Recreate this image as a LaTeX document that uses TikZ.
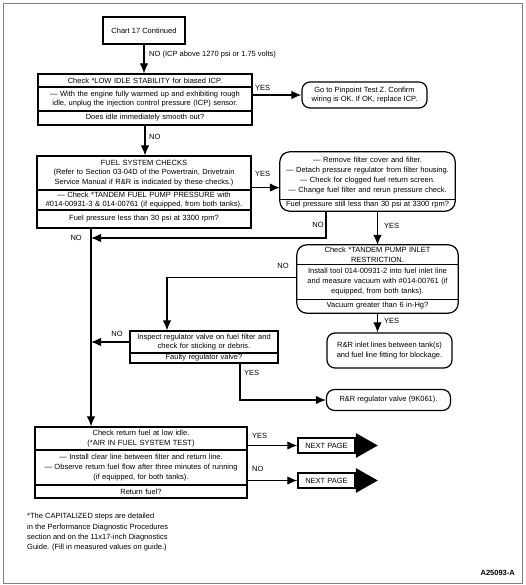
\documentclass[tikz,border=0pt]{standalone}
\usepackage{fontspec}
\setmainfont{Liberation Sans}
\usetikzlibrary{arrows.meta}

\begin{document}
\begin{tikzpicture}
[x=1pt,y=-1pt,%
  >={Latex[length=10pt,width=8.5pt]},%
  every node/.style={font=\fontsize{7.5}{9.8}\selectfont},%
  row/.style={draw,line width=1.2pt,inner sep=0pt,align=center,text width=#1},%
  rrow/.style={inner sep=0pt,align=center,text width=#1},%
  rbox/.style={draw,line width=1.2pt,rounded corners=10pt},%
  endbox/.style={draw,line width=1.2pt,rounded corners=8pt,align=center},%
  flow/.style={->,line width=1.1pt},%
  lbl/.style={inner sep=1pt}]
\useasboundingbox (0,0) rectangle (525,585);
\draw[gray,line width=0.8pt] (3,3) rectangle (522,583);

\node[draw,line width=1.5pt,minimum width=82pt,minimum height=27pt] (chart) at (144,30.5) {Chart 17 Continued};

\node[row=214pt,minimum height=13pt] (lis1) at (145,80.5) {Check *LOW IDLE STABILITY for biased ICP.};
\node[row=214pt,minimum height=24pt] (lis2) at (145,99) {— With the engine fully warmed up and exhibiting rough\\idle, unplug the injection control pressure (ICP) sensor.};
\node[row=214pt,minimum height=14pt] (lis3) at (145,118) {Does idle immediately smooth out?};

\node[endbox,minimum width=125pt,minimum height=26pt] (pin) at (364.5,95) {Go to Pinpoint Test Z. Confirm\\wiring is OK. If OK, replace ICP.};

\node[row=214pt,minimum height=34pt] (fsc1) at (144,173) {FUEL SYSTEM CHECKS\\(Refer to Section 03-04D of the Powertrain, Drivetrain\\Service Manual if R\&R is indicated by these checks.)};
\node[row=214pt,minimum height=20pt] (fsc2) at (144,200) {— Check *TANDEM FUEL PUMP PRESSURE with\\\#014-00931-3 \& 014-00761 (if equipped, from both tanks).};
\node[row=214pt,minimum height=18pt] (fsc3) at (144,219) {Fuel pressure less than 30 psi at 3300 rpm?};

\node[rrow=175pt,minimum height=47pt] (rem1) at (367.5,175.5) {— Remove filter cover and filter.\\— Detach pressure regulator from filter housing.\\— Check for clogged fuel return screen.\\— Change fuel filter and rerun pressure check.};
\node[rrow=175pt,minimum height=12pt] (rem2) at (367.5,205) {Fuel pressure still less than 30 psi at 3300 rpm?};
\draw[rbox] (rem1.north west) rectangle (rem2.south east);
\draw[line width=1.2pt] (rem1.south west) -- (rem1.south east);

\node[rrow=161pt,minimum height=19pt] (tan1) at (377.5,254.5) {Check *TANDEM PUMP INLET\\RESTRICTION.};
\node[rrow=161pt,minimum height=35pt] (tan2) at (377.5,281.5) {Install tool 014-00931-2 into fuel inlet line\\and measure vacuum with \#014-00761 (if\\equipped, from both tanks).};
\node[rrow=161pt,minimum height=14pt] (tan3) at (377.5,306) {Vacuum greater than 6 in-Hg?};
\draw[rbox] (tan1.north west) rectangle (tan3.south east);
\draw[line width=1.2pt] (tan1.south west) -- (tan1.south east);
\draw[line width=1.2pt] (tan2.south west) -- (tan2.south east);

\node[endbox,minimum width=125pt,minimum height=35pt] (inlet) at (389.5,350.5) {R\&R inlet lines between tank(s)\\and fuel line fitting for blockage.};

\node[row=148pt,minimum height=22pt] (ins1) at (204,342) {Inspect regulator valve on fuel filter and\\check for sticking or debris.};
\node[row=148pt,minimum height=10pt] (ins2) at (204,358) {Faulty regulator valve?};

\node[endbox,minimum width=124pt,minimum height=21pt] (regv) at (388.5,400) {R\&R regulator valve (9K061).};

\node[row=212pt,minimum height=23pt] (ret1) at (141,438.5) {Check return fuel at low idle.\\(*AIR IN FUEL SYSTEM TEST)};
\node[row=212pt,minimum height=35pt] (ret2) at (141,467.5) {— Install clear line between filter and return line.\\— Observe return fuel flow after three minutes of running\\(if equipped, for both tanks).};
\node[row=212pt,minimum height=13pt] (ret3) at (141,491.5) {Return fuel?};

\node[draw,line width=1.5pt,minimum width=57pt,minimum height=15pt,inner sep=0pt] (next1) at (326.5,445.5) {NEXT PAGE};
\fill ([yshift=12.5pt]next1.east) -- ([xshift=22pt]next1.east) -- ([yshift=-12.5pt]next1.east) -- cycle;
\node[draw,line width=1.5pt,minimum width=57pt,minimum height=15pt,inner sep=0pt] (next2) at (326.5,480.5) {NEXT PAGE};
\fill ([yshift=12.5pt]next2.east) -- ([xshift=22pt]next2.east) -- ([yshift=-12.5pt]next2.east) -- cycle;

\coordinate (trunk) at (91,238);

\draw[flow] (chart.south) -- (chart.south |- lis1.north);
\draw[flow] (pin.west -| lis2.east) -- (pin.west);
\draw[flow] (lis3.south) -- (lis3.south |- fsc1.north);
\draw[flow] ([yshift=3pt]fsc1.south east) -- ([yshift=3pt]fsc1.south east -| rem1.west);
\draw[flow] (fsc3.south -| trunk) -- (ret1.north -| trunk);
\draw[flow] ([xshift=-41.5pt]rem2.south) |- (trunk);
\draw[flow] (tan1.north |- rem2.south) -- (tan1.north);
\draw[flow] ([yshift=4pt]tan2.west) -| ([xshift=-37pt]ins1.north);
\draw[flow] (tan3.south) -- (tan3.south |- inlet.north);
\draw[flow] (ins1.west) -- (ins1.west -| trunk);
\draw[flow] ([xshift=36pt]ins2.south) |- (regv.west);
\draw[flow] (next1.west -| ret1.east) -- (next1.west);
\draw[flow] (next2.west -| ret2.east) -- (next2.west);

\node[lbl,anchor=west] at (148,55) {NO (ICP above 1270 psi or 1.75 volts)};
\node[lbl,anchor=west] at (254,88) {YES};
\node[lbl,anchor=west] at (148,137) {NO};
\node[lbl,anchor=west] at (254,174) {YES};
\node[lbl] at (318,225) {NO};
\node[lbl,anchor=west] at (383,226) {YES};
\node[lbl,anchor=east] at (83,238) {NO};
\node[lbl] at (283,266) {NO};
\node[lbl,anchor=west] at (383,321) {YES};
\node[lbl] at (117,334) {NO};
\node[lbl,anchor=west] at (243,373) {YES};
\node[lbl,anchor=west] at (251,436) {YES};
\node[lbl,anchor=west] at (251,469) {NO};

\node[lbl,anchor=north west,align=left,font=\fontsize{7.5}{10.4}\selectfont] (note) at (26,512) {*The CAPITALIZED steps are detailed\\in the Performance Diagnostic Procedures\\section and on the 11x17-inch Diagnostics\\Guide. (Fill in measured values on guide.)};
\node[lbl,anchor=east,font=\fontsize{7.5}{8}\selectfont\bfseries] (fig) at (516,573) {A25093-A};
\end{tikzpicture}
\end{document}
